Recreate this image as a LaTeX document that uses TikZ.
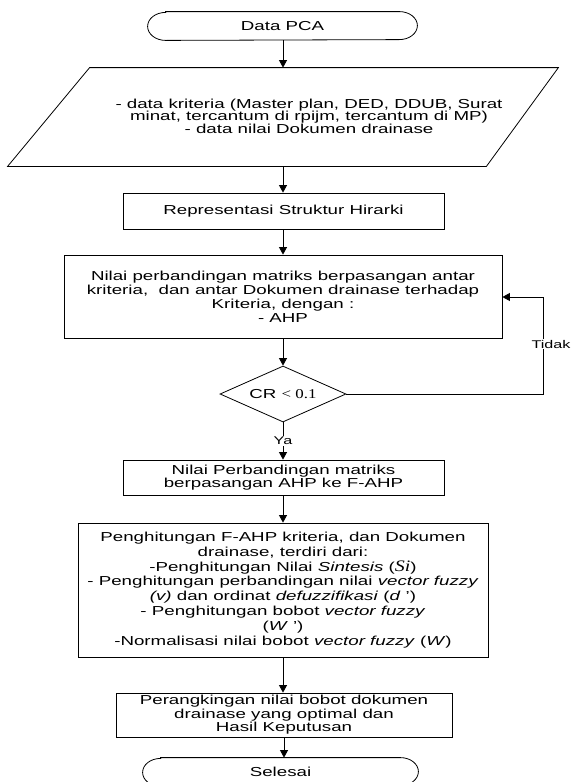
\documentclass[tikz,border=0pt]{standalone}
\usepackage{fontspec}
\setmainfont[FakeStretch=1.44]{Liberation Sans}
\newfontfamily\tnr[FakeStretch=1.25]{Liberation Serif}
\usetikzlibrary{shapes.geometric,arrows.meta}
\begin{document}
\begin{tikzpicture}[x=1pt,y=-1pt,line width=0.8pt,
  box/.style={draw,rectangle,inner sep=0pt,align=center,font=\fontsize{13}{14}\selectfont},
  termnode/.style={draw=none,rectangle,inner sep=0pt,minimum height=28pt,font=\fontsize{13}{14}\selectfont},
  ghost/.style={draw=none,rectangle,inner sep=0pt},
  arr/.style={-{Triangle[length=7.5pt,width=8pt]}},
  lbl/.style={fill=white,inner sep=1pt,font=\fontsize{11.2}{12}\selectfont}]
\useasboundingbox (0,0) rectangle (573,782);

% Start terminator
\node[termnode,minimum width=269pt] (pca) at (282.5,26) {Data PCA};
\draw ([xshift=18pt]pca.north west) -- ([xshift=-18pt]pca.north east)
  arc[start angle=90,end angle=-90,x radius=18pt,y radius=14pt]
  -- ([xshift=18pt]pca.south west)
  arc[start angle=270,end angle=90,x radius=18pt,y radius=14pt] -- cycle;

% Data parallelogram
\node[ghost,minimum width=550pt,minimum height=98pt] (data) at (283,117) {};
\draw ([xshift=82pt]data.north west) -- (data.north east)
  -- ([xshift=-72pt]data.south east) -- (data.south west) -- cycle;
\node[ghost,align=center,font=\fontsize{13}{12.5}\selectfont] (datatext) at (309,116)
  {- data kriteria (Master plan, DED, DDUB, Surat\\
   minat, tercantum di rpijm, tercantum di MP)\\
   - data nilai Dokumen drainase};

% Boxes
\node[box,minimum width=321pt,minimum height=36pt] (rep) at (283.5,211)
  {Representasi Struktur Hirarki};
\node[box,minimum width=438pt,minimum height=83pt] (nilai) at (283,296.5)
  {Nilai perbandingan matriks berpasangan antar\\
   kriteria,\ \ dan antar Dokumen drainase terhadap\\
   Kriteria, dengan :\\
   - AHP};
\node[draw,diamond,aspect=2.25,minimum width=126pt,minimum height=56pt,inner sep=0pt,
  font=\fontsize{13}{14}\selectfont] (cr) at (283,394) {CR {\tnr\fontsize{13.5}{14}\selectfont < 0.1}};
\node[box,minimum width=321pt,minimum height=35pt,font=\fontsize{13}{13}\selectfont] (np) at (283.5,477.5)
  {Nilai Perbandingan matriks\\ berpasangan AHP ke F-AHP};
\node[box,minimum width=410pt,minimum height=134pt,font=\fontsize{13}{14.9}\selectfont] (fahp) at (283,590)
  {Penghitungan F-AHP kriteria, dan Dokumen\\
   drainase, terdiri dari:\\
   -Penghitungan Nilai \textit{Sintesis} ({\tnr\itshape\fontsize{16}{14.9}\selectfont Si})\\
   - Penghitungan perbandingan nilai \textit{vector fuzzy}\\
   \textit{(v)} dan ordinat \textit{defuzzifikasi} (\textit{d} ')\\
   - Penghitungan bobot \textit{vector fuzzy}\\
   (\textit{W} ')\\
   -Normalisasi nilai bobot \textit{vector fuzzy} (\textit{W})};
\node[box,minimum width=336pt,minimum height=44pt,font=\fontsize{13}{13.5}\selectfont] (rank) at (284,715)
  {Perangkingan nilai bobot dokumen\\ drainase yang optimal dan\\ Hasil Keputusan};

% End terminator
\node[termnode,minimum width=275pt] (end) at (280.5,772) {Selesai};
\draw ([xshift=18pt]end.north west) -- ([xshift=-18pt]end.north east)
  arc[start angle=90,end angle=-90,x radius=18pt,y radius=14pt]
  -- ([xshift=18pt]end.south west)
  arc[start angle=270,end angle=90,x radius=18pt,y radius=14pt] -- cycle;

% Connectors
\draw[arr] (data.north |- pca.south) -- (data.north);
\draw[arr] (data.south) -- (data.south |- rep.north);
\draw[arr] (rep.south -| nilai.north) -- (nilai.north);
\draw[arr] (nilai.south) -- (cr.north);
\draw[arr] (cr.south) -- (cr.south |- np.north);
\draw[arr] (np.south -| fahp.north) -- (fahp.north);
\draw[arr] (fahp.south) -- (fahp.south |- rank.north);
\draw[arr] (rank.south) -- (rank.south |- end.north);

\coordinate (tk1) at (543,394);
\coordinate (tk2) at (543,297);
\draw[arr] (cr.east) -- (tk1) -- (tk2) -- (tk2 -| nilai.east);

\node[lbl] (tidak) at (551,344) {Tidak};
\node[lbl] (ya) at (283,441) {Ya};
\end{tikzpicture}
\end{document}
